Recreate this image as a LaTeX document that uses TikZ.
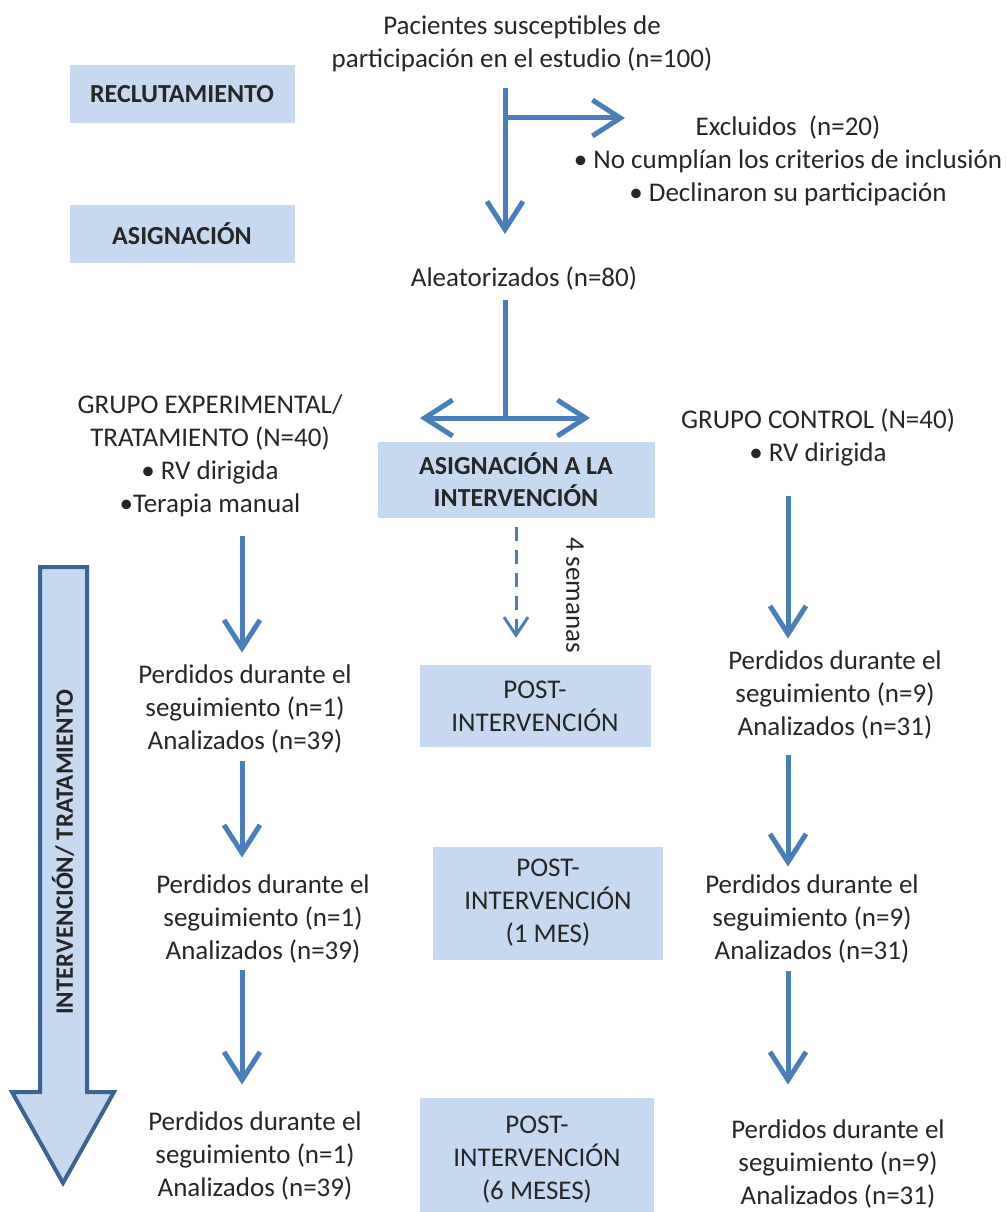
\documentclass[tikz,border=0pt]{standalone}
\usepackage{fontspec}
\setmainfont{Carlito}
\usetikzlibrary{arrows.meta}
\definecolor{boxblue}{RGB}{198,217,241}
\definecolor{arrowblue}{RGB}{74,126,187}
\definecolor{edgeblue}{RGB}{62,98,146}
\tikzset{
    x=1pt, y=-1pt, % one unit is one pixel of the layout, y grows downwards
    }

\begin{document}
\begin{tikzpicture}[
textnode/.style={font=\fontsize{27}{33}\selectfont, align=center, inner sep=0pt, text=black!85},
boxnode/.style={textnode, fill=boxblue},
headnode/.style={boxnode, font=\fontsize{26}{32}\selectfont\bfseries},
flowarrow/.style={draw=arrowblue, line width=5pt, line join=round},
dasharrow/.style={draw=arrowblue, line width=3pt, dash pattern=on 14pt off 9pt, -{Straight Barb[length=18pt,width=24pt]}},
>={Straight Barb[length=28pt,width=36pt]},
]
\useasboundingbox (0,0) rectangle (1006,1212);

% phases on the left
\node[headnode, minimum width=225pt, minimum height=58pt] (recl) at (182,94) {RECLUTAMIENTO};
\node[headnode, minimum width=225pt, minimum height=58pt] (asign) at (182,234) {ASIGNACIÓN};

\node[textnode] (pac) at (522,44) {Pacientes susceptibles de\\participación en el estudio (n=100)};
\node[textnode] (exc) at (788,161) {Excluidos~~(n=20)\\• No cumplían los criterios de inclusión\\• Declinaron su participación};
\node[textnode] (ale) at (524,278) {Aleatorizados (n=80)};

\node[textnode] (gexp) at (210,456) {GRUPO EXPERIMENTAL/\\TRATAMIENTO (N=40)\\• RV dirigida\\•Terapia manual};
\node[textnode] (gcon) at (818,437) {GRUPO CONTROL (N=40)\\• RV dirigida};
\node[headnode, minimum width=277pt, minimum height=76pt] (asig) at (516,480) {ASIGNACIÓN A LA\\INTERVENCIÓN};

\node[boxnode, minimum width=231pt, minimum height=82pt] (post1) at (535,706) {POST-\\INTERVENCIÓN};
\node[boxnode, minimum width=230pt, minimum height=113pt] (post2) at (548,903) {POST-\\INTERVENCIÓN\\(1 MES)};
\node[boxnode, minimum width=234pt, minimum height=124pt] (post3) at (537,1160) {POST-\\INTERVENCIÓN\\(6 MESES)};
\node[textnode, rotate=-90] (weeks) at (575,595) {4 semanas};

\node[textnode] (lexp1) at (245,709) {Perdidos durante el\\seguimiento (n=1)\\Analizados (n=39)};
\node[textnode] (lexp2) at (263,919) {Perdidos durante el\\seguimiento (n=1)\\Analizados (n=39)};
\node[textnode] (lexp3) at (255,1156) {Perdidos durante el\\seguimiento (n=1)\\Analizados (n=39)};
\node[textnode] (lcon1) at (835,695) {Perdidos durante el\\seguimiento (n=9)\\Analizados (n=31)};
\node[textnode] (lcon2) at (812,919) {Perdidos durante el\\seguimiento (n=9)\\Analizados (n=31)};
\node[textnode] (lcon3) at (838,1164) {Perdidos durante el\\seguimiento (n=9)\\Analizados (n=31)};

\coordinate (split) at (505,118);
\coordinate (fork) at (505,418);
\coordinate (forkL) at (420,418);
\coordinate (forkR) at (590,418);
\coordinate (colL) at (242,0);
\coordinate (colR) at (788,0);

\draw[flowarrow,->, shorten <=16pt, shorten >=32pt] (pac.south -| split) -- (ale.north -| split);
\draw[flowarrow,->, shorten >=163pt] (split) -- (split -| exc.north);
\draw[flowarrow, shorten <=10pt] (ale.south -| fork) -- (fork);
\draw[flowarrow,<->] (forkL) -- (forkR);
\draw[dasharrow, shorten <=9pt, shorten >=27pt] (asig.south) -- (post1.north -| asig.south);

\draw[flowarrow,->, shorten <=19pt, shorten >=12pt] (gexp.south -| colL) -- (lexp1.north -| colL);
\draw[flowarrow,->, shorten <=8pt, shorten >=17pt] (lexp1.south -| colL) -- (lexp2.north -| colL);
\draw[flowarrow,->, shorten <=7pt, shorten >=27pt] (lexp2.south -| colL) -- (lexp3.north -| colL);
\draw[flowarrow,->, shorten <=30pt, shorten >=12pt] (gcon.south -| colR) -- (lcon1.north -| colR);
\draw[flowarrow,->, shorten <=16pt, shorten >=8pt] (lcon1.south -| colR) -- (lcon2.north -| colR);
\draw[flowarrow,->, shorten <=8pt, shorten >=35pt] (lcon2.south -| colR) -- (lcon3.north -| colR);

% big time arrow
\draw[fill=boxblue, draw=edgeblue, line width=4pt] (40,567) -- (87,567) -- (87,1092) -- (114,1092) -- (63,1183) -- (12,1092) -- (40,1092) -- cycle;
\node[textnode, font=\fontsize{25}{30}\selectfont\bfseries, rotate=90] (phase) at (63,852) {INTERVENCIÓN/ TRATAMIENTO};
\end{tikzpicture}
\end{document}
